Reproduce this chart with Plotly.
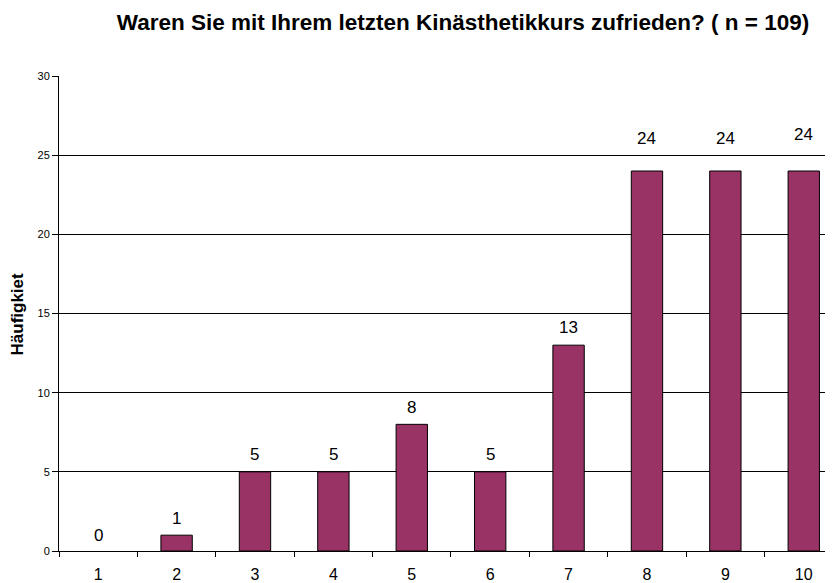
import plotly.graph_objects as go

categories = ["1", "2", "3", "4", "5", "6", "7", "8", "9", "10"]
values = [0, 1, 5, 5, 8, 5, 13, 24, 24, 24]
label_shift = [16, 17, 17, 17, 17, 17, 18, 33, 33, 37]
y_ticks = [0, 5, 10, 15, 20, 25, 30]

FONT = "Arial, Liberation Sans, sans-serif"

fig = go.Figure()
fig.add_trace(go.Bar(
    x=categories, y=values, width=0.40,
    marker=dict(color="#993366",
                line=dict(color="black", width=[0 if v == 0 else 1 for v in values])),
    hoverinfo="x+y",
))
for i, (v, s) in enumerate(zip(values, label_shift)):
    fig.add_annotation(x=i, y=v, text=str(v), showarrow=False, yshift=s,
                       yanchor="middle",
                       font=dict(family=FONT, size=17, color="black"))

fig.add_annotation(xref="paper", yref="paper", x=-0.053, y=0.5,
                   text="<b>Häufigkiet</b>", textangle=-90, showarrow=False,
                   xanchor="center", yanchor="middle",
                   font=dict(family=FONT, size=17, color="black"))

fig.update_layout(
    width=825, height=575,
    margin=dict(l=51, r=0, t=68, b=32),
    paper_bgcolor="white", plot_bgcolor="white",
    showlegend=False,
    title=dict(text="<b>Waren Sie mit Ihrem letzten Kinästhetikkurs zufrieden? ( n = 109)</b>",
               x=0.5515, xanchor="center", y=0.9757, yanchor="middle",
               font=dict(family=FONT, size=22.5, color="black")),
    font=dict(family=FONT, color="black"),
)
fig.update_xaxes(type="category", range=[-0.5, 9.373], tickson="boundaries",
                 ticks="outside", ticklen=5, tickcolor="black",
                 showline=True, linecolor="black", linewidth=1,
                 showgrid=False, tickfont=dict(size=16), zeroline=False,
                 ticklabelstandoff=9, automargin=False)
fig.update_yaxes(range=[0, 30], tickvals=y_ticks, ticks="outside", ticklen=6,
                 tickcolor="black", showline=True, linecolor="black", linewidth=1,
                 showgrid=True, gridcolor="black", gridwidth=1,
                 tickfont=dict(size=11), zeroline=False, automargin=False)
fig.write_html("out.html")
